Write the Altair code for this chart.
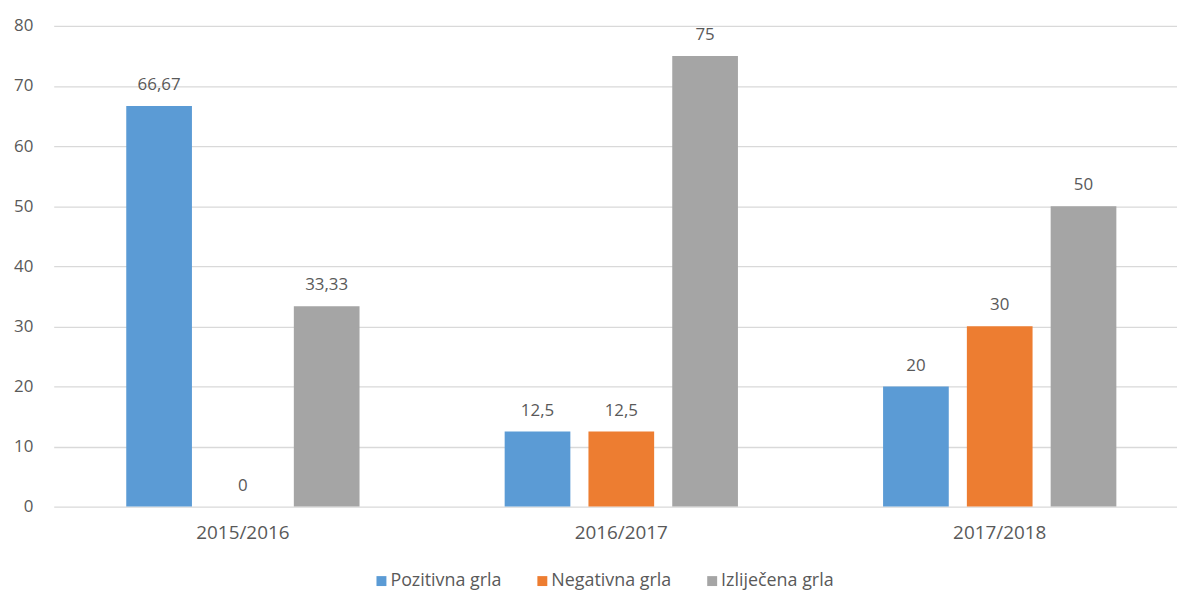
import altair as alt
import pandas as pd

years = ["2015/2016", "2016/2017", "2017/2018"]
series = ["Pozitivna grla", "Negativna grla", "Izliječena grla"]
pozitivna = [66.67, 12.5, 20]
negativna = [0, 12.5, 30]
izlijecena = [33.33, 75, 50]
colors = ["#5B9BD5", "#ED7D31", "#A5A5A5"]
y_ticks = [0, 10, 20, 30, 40, 50, 60, 70, 80]

rows = []
for name, vals in zip(series, [pozitivna, negativna, izlijecena]):
    for yr, v in zip(years, vals):
        rows.append({"year": yr, "series": name, "value": v})
df = pd.DataFrame(rows)

FONT = "Open Sans"
TXT = "#595959"

base = alt.Chart(df).encode(
    x=alt.X("year:N", sort=years,
            scale=alt.Scale(paddingInner=0, paddingOuter=0, round=False,
                            range=[0, 1143]),
            axis=alt.Axis(title=None, labelAngle=0, domain=False, ticks=False,
                          labelPadding=17, labelFontSize=19, labelColor=TXT,
                          labelFont=FONT, grid=False)),
    xOffset=alt.XOffset("series:N", sort=series,
                        scale=alt.Scale(paddingInner=0.216, paddingOuter=0.866,
                                        round=False)),
    y=alt.Y("value:Q", scale=alt.Scale(domain=[0, 80]),
            axis=alt.Axis(title=None, values=y_ticks, domain=False, ticks=False,
                          labelPadding=21, labelFontSize=17, labelColor=TXT,
                          labelFont=FONT, gridColor="#D9D9D9", gridWidth=1.3)),
)

bars = base.mark_bar().encode(
    color=alt.Color("series:N", sort=series,
                    scale=alt.Scale(domain=series, range=colors),
                    legend=alt.Legend(title=None, orient="none", direction="horizontal",
                                      legendX=321, legendY=550,
                                      symbolType="square", symbolSize=100,
                                      symbolStrokeWidth=0, labelFontSize=18,
                                      labelFont=FONT, labelColor=TXT,
                                      labelOffset=0, columnPadding=32))
)

labels = base.mark_text(dy=-16, baseline="alphabetic", fontSize=17,
                        font=FONT, color=TXT).transform_calculate(
    lbl="replace(toString(datum.value), '.', ',')"
).encode(text="lbl:N")

chart = (bars + labels).properties(
    width=1131, height=484,
    autosize=alt.AutoSizeParams(type="none"),
    padding={"left": 46, "top": 16, "right": 0, "bottom": 84},
).configure_view(stroke=None)

chart.save("out.html", embed_options={"renderer": "svg", "actions": False})
